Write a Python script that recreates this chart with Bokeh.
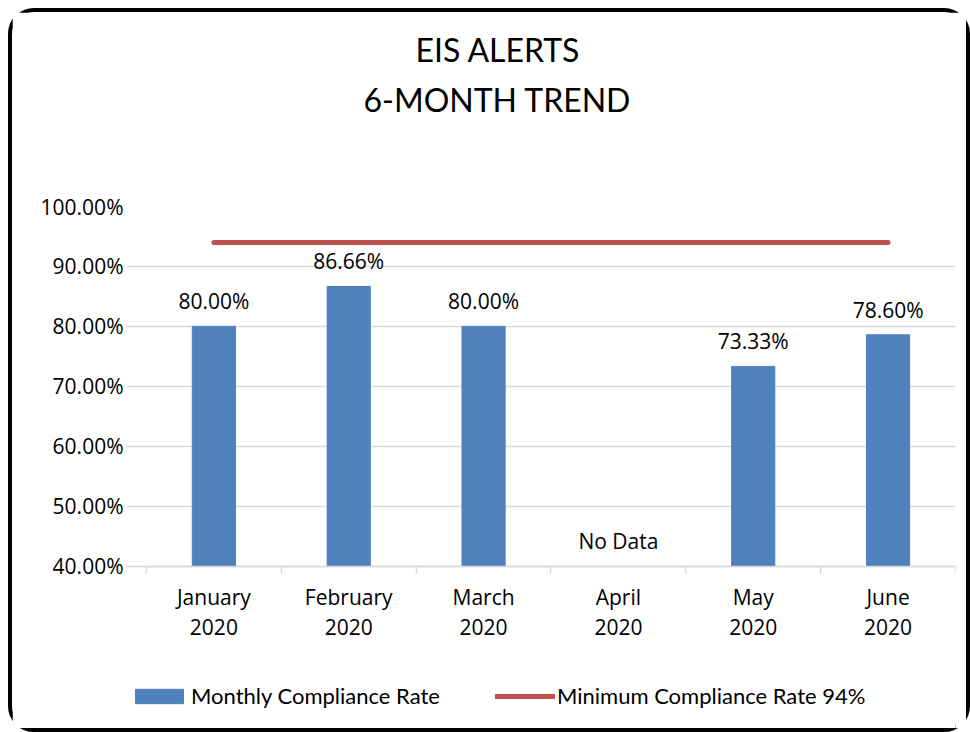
from bokeh.plotting import figure
from bokeh.models import (ColumnDataSource, Range1d, FixedTicker, NumeralTickFormatter,
                          Legend, LegendItem, Title)
from bokeh.core.properties import value
from bokeh.embed import file_html
from bokeh.resources import INLINE

# ---- data ----
months = ["January", "February", "March", "April", "May", "June"]
years = ["2020", "2020", "2020", "2020", "2020", "2020"]
compliance = [0.80, 0.8666, 0.80, None, 0.7333, 0.786]
minimum_rate = [0.94, 0.94, 0.94, 0.94, 0.94, 0.94]
y_ticks = [0.4, 0.5, 0.6, 0.7, 0.8, 0.9, 1.0]
title_lines = ["EIS ALERTS", "6-MONTH TREND"]
series_names = ["Monthly Compliance Rate", "Minimum Compliance Rate 94%"]
missing_text = "No Data"

# axis range of the value axis; the plot frame extends lower to hold the
# category labels and the legend
Y_MIN, Y_MAX = 0.40, 1.00
Y_VIEW_START = 0.116
X_VIEW_START = -0.148

x = [i + 0.5 for i in range(len(months))]
tick_labels = {xi: f"{m}\n{yr}" for xi, m, yr in zip(x, months, years)}
bar_tops = [v if v is not None else float("nan") for v in compliance]
label_text = [f"{v:.2%}" if v is not None else missing_text for v in compliance]
label_y = [v if v is not None else Y_MIN for v in compliance]

src = ColumnDataSource(dict(x=x, top=bar_tops, ly=label_y, txt=label_text, minr=minimum_rate))

LABEL_FONT = "Open Sans"
TITLE_FONT = "Lato"

p = figure(width=954, height=716, output_backend="svg", toolbar_location=None,
           x_range=Range1d(X_VIEW_START, len(months)), y_range=Range1d(Y_VIEW_START, Y_MAX),
           min_border_left=114, min_border_right=19, min_border_bottom=0,
           min_border_top=0)
p.styles = {"border": "4px solid black", "border-radius": "26px",
            "box-sizing": "content-box", "margin-left": "8px", "margin-top": "8px"}
p.outline_line_color = None
p.background_fill_color = "white"
p.border_fill_color = "white"

bars = p.vbar(x="x", top="top", bottom=Y_MIN, width=0.32, source=src,
              fill_color="#4f81bd", line_color="#4f81bd")
minline = p.line(x="x", y="minr", source=src, line_color="#c0504d", line_width=5,
                 line_cap="round")

p.text(x="x", y="ly", text="txt", source=src, text_align="center",
       text_baseline="middle", y_offset=-25, text_font=value(LABEL_FONT),
       text_font_size="21px", text_color="black")

# axes
xa = p.xaxis[0]
xa.fixed_location = Y_MIN
xa.bounds = (0, len(months))
xa.ticker = FixedTicker(ticks=x, minor_ticks=list(range(len(months) + 1)))
xa.major_label_overrides = tick_labels
xa.major_tick_line_color = None
xa.major_tick_out = 0
xa.major_tick_in = 0
xa.minor_tick_line_color = "#d9d9d9"
xa.minor_tick_in = 0
xa.minor_tick_out = 7
xa.axis_line_color = "#d9d9d9"
xa.axis_line_width = 1.5
xa.minor_tick_line_width = 1.5
xa.major_label_text_font = LABEL_FONT
xa.major_label_text_font_size = "21px"
xa.major_label_text_color = "black"
xa.major_label_standoff = 10
xa.major_label_text_line_height = 1.07

ya = p.yaxis[0]
ya.ticker = FixedTicker(ticks=y_ticks)
ya.formatter = NumeralTickFormatter(format="0.00%")
ya.axis_line_color = None
ya.major_tick_line_color = None
ya.major_tick_out = 0
ya.major_tick_in = 0
ya.minor_tick_line_color = None
ya.major_label_standoff = 3
ya.major_label_text_font = LABEL_FONT
ya.major_label_text_font_size = "21px"
ya.major_label_text_color = "black"

p.xgrid.grid_line_color = None
p.ygrid.ticker = FixedTicker(ticks=y_ticks)
p.ygrid.bounds = (0, len(months))
p.ygrid.grid_line_color = "#d9d9d9"
p.ygrid.grid_line_width = 1.5

# titles (stacked outward from the plot frame: spacer, line 2, line 1)
spacer = Title(text=" ", text_font_size="1px", standoff=90)
t2 = Title(text=title_lines[1], align="left", text_font=TITLE_FONT,
           text_font_size="32px", text_font_style="normal", text_color="black",
           offset=237, standoff=-11)
t1 = Title(text=title_lines[0], align="left", text_font=TITLE_FONT,
           text_font_size="32px", text_font_style="normal", text_color="black",
           offset=289, standoff=30)
p.add_layout(spacer, "above")
p.add_layout(t2, "above")
p.add_layout(t1, "above")

legend = Legend(items=[LegendItem(label=series_names[0], renderers=[bars]),
                       LegendItem(label=series_names[1], renderers=[minline])],
                orientation="horizontal", location=(3, 27),
                glyph_width=60, glyph_height=18, label_standoff=2, spacing=55,
                padding=0, margin=0, border_line_color=None,
                background_fill_alpha=0,
                label_text_font=TITLE_FONT, label_text_font_size="22px",
                label_text_color="black")
p.add_layout(legend, "center")

open("out.html", "w").write(file_html(p, INLINE))
